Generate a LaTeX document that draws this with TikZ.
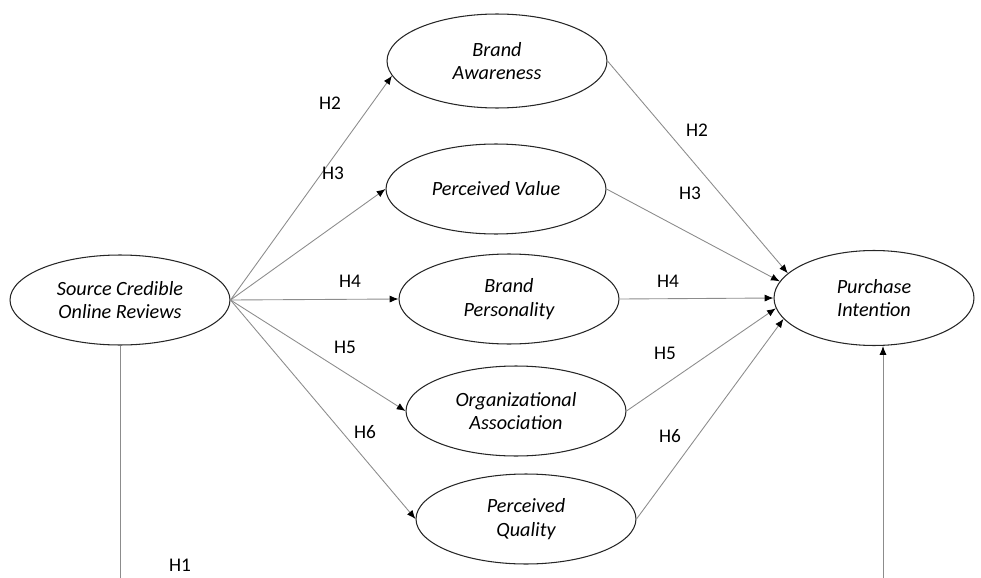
\documentclass[tikz,border=0pt]{standalone}
\usepackage{fontspec}
\setmainfont{Carlito}
\usepackage{tikz}
\usetikzlibrary{arrows.meta,shapes}

\begin{document}
\begin{tikzpicture}[x=0.02cm,y=-0.02cm,
  construct/.style={ellipse,draw=black!85,line width=0.6pt,minimum width=4.4cm,minimum height=1.8cm,inner sep=0pt,align=center,font=\itshape\fontsize{11.5}{13.5}\selectfont},
  path/.style={draw=black!45,line width=0.5pt,-{Latex[length=5pt,width=4pt,black]}},
  hyp/.style={font=\fontsize{11}{13}\selectfont}]
\useasboundingbox (0,0) rectangle (981,578);
\node[construct] (src) at (120,300) {Source Credible\\Online Reviews};
\node[construct,minimum height=1.88cm] (ba) at (497,61) {Brand\\Awareness};
\node[construct] (pv) at (496,189) {Perceived Value};
\node[construct] (bp) at (509,299) {Brand\\Personality};
\node[construct] (oa) at (516,411) {Organizational\\Association};
\node[construct] (pq) at (526,519) {Perceived\\Quality};
\node[construct,minimum width=4cm,minimum height=1.9cm] (pi) at (874,298) {Purchase\\Intention};
\coordinate (low1) at (120,578);
\coordinate (low2) at (883,578);
% left fan
\draw[path] (src.east) -- (ba.188);
\draw[path] (src.east) -- (pv.west);
\draw[path] (src.east) -- (bp.west);
\draw[path] (src.east) -- (oa.west);
\draw[path] (src.east) -- (pq.west);
% right fan
\draw[path] (ba.east) -- (pi.164);
\draw[path] (pv.east) -- (pi.170);
\draw[path] (bp.east) -- (pi.west);
\draw[path] (oa.east) -- (pi.186);
\draw[path] (pq.east) -- (pi.193);
% H1
\draw[draw=black!45,line width=0.5pt] (src) -- (low1);
\draw[path] (low2) -- (low2 |- pi.south);
\node[hyp] (h2a) at (330,103) {H2};
\node[hyp] (h3a) at (333,173) {H3};
\node[hyp] (h4a) at (350,281) {H4};
\node[hyp] (h5a) at (345,347) {H5};
\node[hyp] (h6a) at (365,432) {H6};
\node[hyp] (h2b) at (697,130) {H2};
\node[hyp] (h3b) at (690,193) {H3};
\node[hyp] (h4b) at (668,281) {H4};
\node[hyp] (h5b) at (665,353) {H5};
\node[hyp] (h6b) at (670,436) {H6};
\node[hyp] (h1) at (180,565) {H1};
\end{tikzpicture}
\end{document}
